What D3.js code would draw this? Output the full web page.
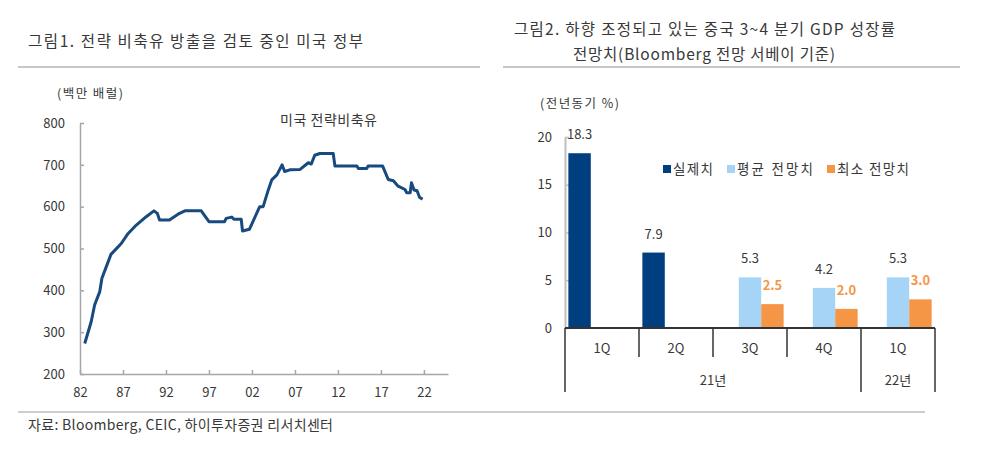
<!DOCTYPE html>
<html><head><meta charset="utf-8">
<script src="https://cdn.jsdelivr.net/npm/d3@7"></script>
<style>
html,body{margin:0;padding:0;background:#fff;}
svg{display:block;font-family:"Noto Sans CJK KR","Noto Sans",sans-serif;}
</style></head>
<body>
<svg id="c" width="1000" height="457"></svg>
<script>
// ---- Left chart data: US Strategic Petroleum Reserve (million barrels)
const sprYears = [1982.55,1983.3,1983.7,1984.3,1984.55,1985.05,1985.6,1986.8,1987.6,1988.55,1989.7,1990.6,1991.0,1991.25,1992.4,1993.4,1994.2,1996.1,1997.0,1998.8,1999.0,1999.65,1999.9,2000.75,2000.9,2001.7,2002.9,2003.3,2003.9,2004.3,2004.9,2005.5,2005.8,2006.4,2007.6,2008.55,2008.9,2009.3,2009.9,2011.45,2011.65,2014.2,2014.4,2015.35,2015.5,2017.2,2017.85,2018.45,2019.0,2019.8,2020.0,2020.4,2020.55,2020.85,2021.2,2021.5,2021.85];
const sprValues = [273,325,365,397,429,456,486,512,536,556,576,590,584,568,568,582,590,590,564,564,572,575,570,570,542,546,600,600,640,664,676,700,684,688,689,705,702,723,727,727,697,697,691,691,697,697,665,662,649,641,633,633,657,640,638,622,618];
const leftYTicks = [200,300,400,500,600,700,800];
const leftXTicks = [1982,1987,1992,1997,2002,2007,2012,2017,2022];
const leftXLabels = ["82","87","92","97","02","07","12","17","22"];

// ---- Right chart data: China GDP growth (YoY %)
const quarters = ["1Q","2Q","3Q","4Q","1Q"];
const yearGroups = [{label:"21년", start:0, span:4},{label:"22년", start:4, span:1}];
const seriesNames = ["실제치","평균 전망치","최소 전망치"];
const actual  = [18.3, 7.9, null, null, null];
const avgFc   = [null, null, 5.3, 4.2, 5.3];
const minFc   = [null, null, 2.5, 2.0, 3.0];
const rightYTicks = [0,5,10,15,20];

const svg = d3.select("#c");
const txt = "#383838";

function label(x, y, size, str, len) {
  const t = svg.append("text").attr("x",x).attr("y",y).attr("font-size",size).attr("fill",txt).text(str);
  if (len) t.attr("textLength",len).attr("lengthAdjust","spacing");
  return t;
}

// ---- Titles / dividers
label(28, 47, 15.5, "그림1. 전략 비축유 방출을 검토 중인 미국 정부", 335);
label(514, 35, 15.5, "그림2. 하향 조정되고 있는 중국 3~4 분기 GDP 성장률", 381);
label(573, 60, 15.5, "전망치(Bloomberg 전망 서베이 기준)", 262);
svg.append("line").attr("x1",18).attr("x2",480).attr("y1",67).attr("y2",67).attr("stroke","#c8c8c8").attr("stroke-width",2);
svg.append("line").attr("x1",503).attr("x2",960).attr("y1",67).attr("y2",67).attr("stroke","#c8c8c8").attr("stroke-width",2);
svg.append("line").attr("x1",18).attr("x2",925).attr("y1",412).attr("y2",412).attr("stroke","#bdbdbd").attr("stroke-width",1.5);
label(28, 430, 14, "자료: Bloomberg, CEIC, 하이투자증권 리서치센터", 305);

// ---- Left chart
const lx = d3.scaleLinear().domain([1982, 2024.8]).range([80, 448]);
const ly = d3.scaleLinear().domain([200, 800]).range([374, 123]);
const axisCol = "#a6a6a6";

const gly = svg.append("g").attr("transform","translate(80,0)")
  .call(d3.axisLeft(ly).tickValues(leftYTicks).tickSizeInner(-4).tickSizeOuter(0).tickPadding(15));
const glx = svg.append("g").attr("transform","translate(0,374)")
  .call(d3.axisBottom(lx).tickValues(leftXTicks).tickFormat((d,i)=>leftXLabels[i]).tickSizeInner(-4).tickSizeOuter(0).tickPadding(14));
[gly,glx].forEach(g=>{
  g.select(".domain").attr("stroke",axisCol).attr("stroke-width",1.5);
  g.selectAll(".tick line").attr("stroke",axisCol).attr("stroke-width",1.5);
  g.selectAll(".tick text").attr("font-size",13).attr("fill",txt).attr("font-family","'Noto Sans CJK KR',sans-serif");
});
label(57, 98, 12.5, "(백만 배럴)", 66);
label(280, 125, 14, "미국 전략비축유", 97);

const lineData = sprYears.map((y,i)=>[y, sprValues[i]]);
svg.append("path").datum(lineData)
  .attr("fill","none").attr("stroke","#174a7e").attr("stroke-width",3).attr("stroke-linejoin","round")
  .attr("d", d3.line().x(d=>lx(d[0])).y(d=>ly(d[1])));

// ---- Right chart
const colors = ["#003f7f","#a6d4f7","#f59646"];
const rx0 = d3.scaleBand().domain(d3.range(quarters.length)).range([565, 935]).padding(0);
const rx1 = d3.scaleBand().domain(d3.range(3)).range([0, rx0.bandwidth()]).paddingInner(0).paddingOuter(0.15);
const ry = d3.scaleLinear().domain([0, 20]).range([328, 137]);

const gry = svg.append("g").attr("transform","translate(565,0)")
  .call(d3.axisLeft(ry).tickValues(rightYTicks).tickSizeInner(-4).tickSizeOuter(0).tickPadding(13));
gry.select(".domain").attr("stroke","#bfbfbf").attr("stroke-width",2);
gry.selectAll(".tick line").attr("stroke","#bfbfbf").attr("stroke-width",1.5);
gry.selectAll(".tick text").attr("font-size",13).attr("fill",txt).attr("font-family","'Noto Sans CJK KR',sans-serif");
label(540, 108, 12.5, "(전년동기 %)", 79);

const series = [actual, avgFc, minFc];
series.forEach((vals, s)=>{
  vals.forEach((v, i)=>{
    if (v === null) return;
    const x = rx0(i) + rx1(s);
    svg.append("rect").attr("x", x).attr("width", rx1.bandwidth())
      .attr("y", ry(v)).attr("height", ry(0) - ry(v)).attr("fill", colors[s]);
    svg.append("text").attr("x", x + rx1.bandwidth()/2).attr("y", ry(v) - 14)
      .attr("text-anchor","middle").attr("font-size",13)
      .attr("font-weight", s===2 ? "bold" : "normal")
      .attr("fill", s===2 ? "#f59646" : txt).text(v.toFixed(1));
  });
});

// x-axis line + dividers
const dark = "#333";
svg.append("line").attr("x1",565).attr("x2",935).attr("y1",ry(0)).attr("y2",ry(0)).attr("stroke",dark).attr("stroke-width",2);
d3.range(quarters.length+1).forEach(i=>{
  const x = i < quarters.length ? rx0(i) : rx0.range()[1];
  const isYearEdge = yearGroups.some(g=>g.start===i) || i===quarters.length;
  svg.append("line").attr("x1",x).attr("x2",x).attr("y1",ry(0)).attr("y2", isYearEdge ? 392 : 357)
    .attr("stroke",dark).attr("stroke-width",1.5);
});
quarters.forEach((q,i)=>{
  svg.append("text").attr("x", rx0(i)+rx0.bandwidth()/2).attr("y",353).attr("text-anchor","middle")
    .attr("font-size",13).attr("fill",txt).text(q);
});
yearGroups.forEach(g=>{
  const x = rx0(g.start) + g.span*rx0.bandwidth()/2;
  svg.append("text").attr("x", x).attr("y",385).attr("text-anchor","middle")
    .attr("font-size",13).attr("fill",txt).text(g.label);
});

// legend
const legX = [663, 727, 827];
const legLen = [40, 76, 72];
seriesNames.forEach((n,i)=>{
  svg.append("rect").attr("x",legX[i]).attr("y",165).attr("width",8).attr("height",8).attr("fill",colors[i]);
  svg.append("text").attr("x",legX[i]+10).attr("y",174).attr("font-size",13.5).attr("fill",txt)
    .attr("textLength",legLen[i]).attr("lengthAdjust","spacing").text(n);
});
</script>
</body></html>
